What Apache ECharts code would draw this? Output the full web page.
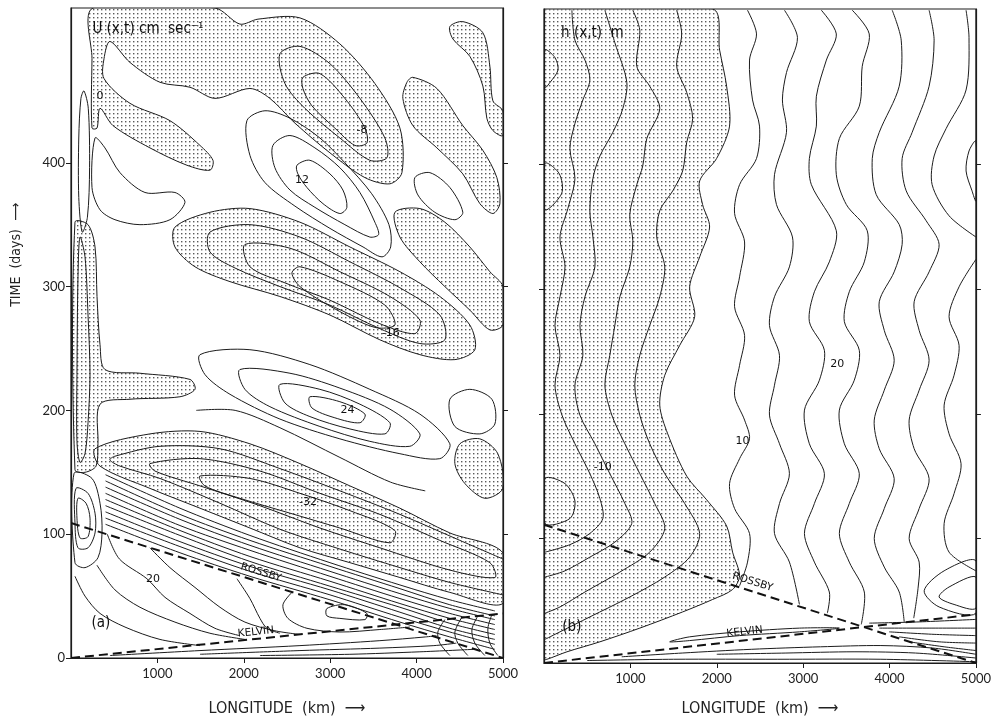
<!DOCTYPE html>
<html><head><meta charset="utf-8">
<script src="https://cdn.jsdelivr.net/npm/echarts@6/dist/echarts.min.js"></script>
<style>html,body{margin:0;padding:0;background:#fff}#c{width:994px;height:722px}</style>
</head><body><div id="c"></div>
<script>
// ---------- axes ----------
const xTicks = [1000, 2000, 3000, 4000, 5000];
const yTicksLabelled = [0, 100, 200, 300, 400];
const yTicksPlain = [100, 200, 300, 400];
const kmMax = 5000, dayMax = 525;

// ---------- panel (a): U(x,t) — dashed characteristics ----------
const uRossby = [[0,109],[5000,0]];
const uKelvin = [[0,0],[5000,36]];

// ---------- panel (a): stippled (negative) regions [km, days] ----------
const uNegTop = [[255,525],[1666,525],[1955,512],[2164,516],[2650,517],[3112,496],[3517,464],[3807,428],[3830,392],[3691,383],[3402,388],[2997,408],[2592,432],[2302,452],[2071,460],[1666,452],[1377,461],[1030,465],[683,481],[451,498],[382,484],[382,468],[683,448],[1145,434],[1493,414],[1643,402],[1608,394],[1342,398],[914,412],[486,430],[336,444],[301,428],[243,428],[243,484]];
const uNegRT1 = [[4385,510],[4535,514],[4767,505],[4848,478],[4883,450],[4998,442],[4998,422],[4883,426],[4813,436],[4767,462],[4616,486],[4420,500]];
const uNegRT2 = [[3957,469],[4235,460],[4535,430],[4767,410],[4929,388],[4964,367],[4883,359],[4732,367],[4535,391],[4235,412],[3957,430],[3841,452],[3888,465]];
const uNegRT3 = [[3749,360],[4038,363],[4327,352],[4616,332],[4848,312],[5000,300],[5000,269],[4848,265],[4616,281],[4327,300],[4038,320],[3807,340]];
const uNeg16 = [[1203,348],[1608,360],[2071,363],[2650,352],[3228,332],[3807,312],[4269,292],[4616,269],[4674,249],[4443,241],[4038,245],[3575,257],[2997,277],[2418,292],[1840,304],[1435,316],[1203,332]];
const uNegSB = [[4501,173],[4732,177],[4940,165],[4998,137],[4790,129],[4558,141],[4443,157]];
const uNeg32 = [[278,169],[914,181],[1493,183],[2071,173],[2650,157],[3228,139],[3807,121],[4385,101],[4998,85],[4998,44],[4385,53],[3807,65],[3228,77],[2650,89],[2071,105],[1493,121],[914,137],[336,155]];
const uNegLeft = [[46,352],[197,350],[278,332],[301,292],[336,253],[393,233],[798,230],[1377,225],[1435,217],[1261,211],[683,209],[336,205],[312,173],[290,155],[162,150],[46,152]];

// ---------- panel (a): closed contours ----------
const uLoopM8a = [[2418,488],[2650,494],[2997,480],[3344,452],[3633,420],[3656,404],[3459,402],[3112,420],[2707,444],[2476,464]];
const uLoopM8b = [[2684,469],[2881,472],[3170,452],[3402,428],[3425,416],[3286,414],[3054,428],[2788,446],[2684,460]];
const uLoop12a = [[2615,398],[2765,402],[2997,391],[3147,378],[3193,364],[3112,359],[2916,367],[2731,380],[2626,391]];
const uLoop12b = [[2337,414],[2534,422],[2823,412],[3112,396],[3344,376],[3517,352],[3560,342],[3459,340],[3170,350],[2823,364],[2534,378],[2360,396]];
const uLoop12c = [[2036,434],[2245,442],[2534,436],[2881,420],[3170,400],[3480,375],[3680,350],[3700,332],[3600,324],[3380,332],[2997,347],[2592,365],[2245,384],[2071,406]];
const uLoopWhite = [[3980,388],[4154,392],[4385,380],[4535,360],[4443,354],[4211,360],[4015,374]];
const uLoop16b = [[1608,344],[2071,350],[2650,340],[3228,320],[3807,299],[4269,277],[4327,257],[4038,254],[3575,266],[2997,285],[2418,300],[1898,315],[1608,328]];
const uLoop16c = [[2013,334],[2534,331],[3112,312],[3691,292],[4038,273],[3980,262],[3575,270],[2997,289],[2476,303],[2071,316]];
const uLoop16d = [[2650,316],[3112,304],[3633,285],[3749,269],[3517,267],[3054,282],[2650,300],[2557,311]];
const uLoop24a = [[1493,245],[2071,249],[2765,237],[3459,217],[4038,197],[4385,173],[4269,161],[3807,165],[3112,177],[2418,193],[1840,213],[1550,229]];
const uLoop24b = [[1955,233],[2534,230],[3112,218],[3691,201],[4038,181],[3922,171],[3459,175],[2881,187],[2302,203],[2013,217]];
const uLoop24c = [[2418,221],[2881,217],[3344,205],[3691,190],[3633,181],[3228,185],[2765,195],[2476,206]];
const uLoop24d = [[2765,211],[3112,207],[3402,197],[3344,190],[3054,194],[2788,202]];
const uLoopRM = [[4385,209],[4616,217],[4871,209],[4906,189],[4732,181],[4443,187]];
const uLoop32b = [[914,157],[1493,161],[2187,151],[2881,133],[3575,116],[4269,95],[4848,77],[4906,65],[4385,71],[3575,89],[2881,105],[2187,123],[1493,139],[972,151]];
const uLoop32c = [[1493,147],[2071,145],[2650,133],[3228,119],[3749,103],[3691,93],[3112,105],[2534,117],[1955,129],[1550,139]];
const uLoopTL1 = [[150,458],[200,444],[215,396],[190,356],[130,344],[90,372],[90,420],[115,452]];
const uLoopTL2 = [[278,420],[393,412],[567,392],[856,376],[1203,376],[1319,368],[1145,354],[798,350],[509,354],[336,362],[243,380]];
const uLoopStrip = [[104,340],[162,324],[197,277],[220,229],[197,190],[162,165],[104,158],[69,175],[69,229],[81,308]];
const uLoopEL1 = [[58,137],[197,133],[278,117],[278,101],[197,89],[81,89],[46,109]];
const uLoopEL2 = [[81,129],[174,125],[220,113],[197,98],[104,97],[69,113]];
const uLoopEL3 = [[35,149],[243,145],[336,125],[359,101],[312,81],[162,73],[46,77]];
const uLoopB7 = [[2962,40],[3170,43],[3425,36],[3402,31],[3112,32],[2962,34]];

// ---------- panel (a): open contours ----------
const uLine32a = [[4998,80],[4501,95],[3807,116],[3112,135],[2418,153],[1724,169],[1030,171],[509,163],[450,160],[567,155],[1030,145],[1724,125],[2418,104],[3112,88],[3807,73],[4385,61],[4998,51]];
const uPre24 = [[1450,200],[1900,200],[2418,186],[3112,162],[3700,142],[4100,135]];
const uBand1 = [[400,148],[1261,121],[2071,99],[2997,77],[3807,59],[4385,47],[4906,38]];
const uBand2 = [[400,143],[1261,116],[2071,95],[2997,74],[3807,56],[4385,43],[4906,34]];
const uBand3 = [[400,138],[1261,112],[2071,91],[2997,70],[3807,52],[4385,40],[4906,31]];
const uBand4 = [[400,133],[1261,107],[2071,87],[2997,66],[3807,48],[4385,36],[4906,27]];
const uBand5 = [[400,128],[1261,103],[2071,82],[2997,62],[3807,44],[4385,32],[4906,23]];
const uBand6 = [[400,123],[1261,99],[2071,78],[2997,58],[3807,41],[4385,28],[4906,19]];
const uBand7 = [[400,118],[1261,94],[2071,74],[2997,55],[3807,37],[4385,24],[4906,15]];
const uBand8 = [[400,113],[1261,90],[2071,70],[2997,51],[3807,33],[4385,21],[4906,11]];
const uBand9 = [[400,108],[1261,85],[2071,66],[2997,47],[3807,29],[4385,17],[4906,7]];
const uB1 = [[46,66],[162,50],[336,36],[625,25],[1030,15],[1493,10]];
const uB2 = [[300,75],[509,55],[798,41],[1203,29],[1608,20],[2013,15]];
const uB3 = [[420,100],[560,80],[879,64],[1088,49],[1377,36],[1666,24],[1955,18]];
const uB4 = [[914,89],[1145,73],[1435,57],[1724,41],[2013,29],[2360,22],[2650,19]];
const uB5 = [[1921,64],[2071,48],[2187,32],[2268,24],[2418,20]];
const uB6 = [[2557,53],[2453,43],[2511,32],[2731,24],[3112,21],[3575,23],[3922,25]];
const uH1 = [[451,2],[1493,6],[2650,10],[3575,14],[4100,17],[4230,18]];
const uH2 = [[1493,3],[2650,6],[3575,8],[4200,10],[4460,12]];
const uH3 = [[2187,2],[3228,3],[4038,5],[4660,7]];
const uA1 = [[4327,31],[4246,21],[4269,12],[4385,2]];
const uA2 = [[4524,33],[4443,21],[4477,12],[4593,2]];
const uA3 = [[4709,34],[4640,23],[4674,12],[4790,2]];
const uA4 = [[4871,35],[4825,24],[4848,12],[4940,2]];

// ---------- panel (a): contour labels ----------
const uLabelText = ['0', '-8', '12', '-16', '24', '-32', '20'];
const uLabelAt = [[336,454],[3367,426],[2673,386],[3700,262],[3200,200],[2742,126],[949,64]];

// ---------- panel (b): h(x,t) ----------
const hRossby = [[0,111],[5000,0]];
const hKelvin = [[0,0],[5000,39]];
const hNeg = [[0,525],[1952,525],[2033,492],[2114,463],[2148,431],[1998,405],[1802,387],[1836,368],[1917,350],[1802,326],[1686,302],[1744,278],[1571,255],[1398,231],[1340,207],[1432,184],[1652,150],[1883,131],[2114,110],[2183,89],[2264,70],[2183,59],[1952,51],[1605,41],[1109,28],[647,17],[266,9],[35,3],[0,3]];
const hS2 = [[323,524],[358,500],[474,484],[531,468],[450,452],[358,433],[300,413],[358,389],[277,365],[185,342],[243,318],[185,294],[127,271],[185,247],[127,223],[208,199],[358,176],[531,152],[647,132],[681,116],[531,104],[300,95],[12,89]];
const hS3 = [[705,524],[820,498],[959,466],[912,445],[797,426],[647,407],[566,389],[531,363],[566,342],[589,318],[474,294],[416,271],[450,247],[358,223],[416,199],[589,176],[762,152],[936,128],[1016,112],[820,97],[531,85],[243,74],[12,69]];
const hS4 = [[1028,524],[1109,508],[1074,479],[1224,463],[1340,445],[1190,421],[1143,399],[1074,384],[993,360],[1028,339],[993,318],[878,294],[820,271],[762,247],[705,223],[785,199],[936,176],[1109,152],[1282,128],[1398,108],[1224,89],[878,73],[474,57],[185,45],[12,40]];
const hS5 = [[1536,524],[1594,505],[1536,479],[1652,458],[1721,437],[1652,418],[1605,395],[1490,379],[1340,363],[1305,342],[1398,318],[1340,294],[1224,271],[1109,247],[1051,223],[1109,199],[1224,176],[1398,152],[1629,128],[1802,104],[1686,85],[1398,69],[993,53],[531,37],[185,25],[12,19]];
const hW1 = [[2356,524],[2460,505],[2379,484],[2414,452],[2495,431],[2460,405],[2264,384],[2206,361],[2322,338],[2264,310],[2206,286],[2322,263],[2264,239],[2206,215],[2322,195],[2379,180],[2264,164],[2148,144],[2206,124],[2379,104],[2356,81],[2264,62]];
const hW2 = [[2784,524],[2934,502],[2807,474],[2760,452],[2807,426],[2668,392],[2691,368],[2876,342],[2841,318],[2668,294],[2610,271],[2726,247],[2668,223],[2610,199],[2726,176],[2841,152],[2726,128],[2668,104],[2841,81],[2957,47]];
const hW3 = [[3211,524],[3384,505],[3269,484],[3153,455],[3153,431],[3072,405],[3095,384],[3384,347],[3303,322],[3130,298],[3072,274],[3246,251],[3188,227],[3015,203],[3072,176],[3246,152],[3130,128],[3015,104],[3130,81],[3303,57],[3280,40]];
const hW4 = [[3569,524],[3765,505],[3684,479],[3650,447],[3419,421],[3384,392],[3500,368],[3742,347],[3708,322],[3534,298],[3477,274],[3650,251],[3592,227],[3419,203],[3477,176],[3650,152],[3534,128],[3419,104],[3534,81],[3708,57],[3673,31]];
const hW5 = [[4031,524],[4135,500],[4112,463],[3881,426],[3800,405],[3846,376],[4112,352],[4146,336],[4054,314],[3881,290],[3939,267],[4054,243],[3939,219],[3823,195],[3881,172],[4054,148],[3939,124],[3823,100],[3939,77],[4112,57],[4170,33]];
const hW6 = [[4458,524],[4516,500],[4458,463],[4262,426],[4146,405],[4193,379],[4424,355],[4574,336],[4458,314],[4285,290],[4343,267],[4458,243],[4343,219],[4227,195],[4285,172],[4458,148],[4343,124],[4227,100],[4343,81],[4330,60],[4280,36]];
const hW7 = [[4886,524],[4920,502],[4886,460],[4655,429],[4516,407],[4493,384],[4689,359],[5000,342]];
const hW7b = [[5000,324],[4805,302],[4689,278],[4805,255],[4747,231],[4632,207],[4689,184],[4828,160],[4747,136],[4632,112],[4689,89],[5000,74]];
const hF1 = [[3765,32],[4343,33],[5000,35]];
const hF2 = [[3881,28],[4458,28],[5000,28]];
const hF3 = [[3996,25],[4516,23],[5000,22]];
const hF4 = [[4112,21],[4574,17],[5000,16]];
const hF5 = [[4227,17],[4632,13],[5000,10]];
const hHB0 = [[500,2],[1500,3],[2700,3],[3900,3],[5000,1]];
const hHB1 = [[900,5],[1600,8],[2400,11],[3200,13],[3900,14],[4500,12],[5000,7]];
const hHB2 = [[2000,7],[2800,8],[3600,9],[4300,8],[5000,4]];
const hBumpTop = [[12,492],[127,486],[162,476],[69,466],[12,462]];
const hBumpMid = [[12,401],[175,393],[205,377],[12,364]];
const hChIn = [[12,148],[243,144],[358,130],[300,116],[12,112]];
const hRB1 = [[5000,419],[4920,411],[4886,395],[4955,379],[5000,371]];
const hRB3 = [[5000,69],[4689,61],[4574,53],[4747,47],[5000,44]];
const hRB4 = [[5000,82],[4632,74],[4401,58],[4574,45],[5000,40]];
const hLoopHL = [[1455,17],[1686,21],[2264,25],[2957,28],[3419,28],[2957,25],[2264,22],[1686,18]];
const hLabelText = ['-10', '10', '20'];
const hLabelAt = [[681,157],[2298,178],[3396,240]];

// ---------- groupings ----------
const uAreas = [uNegTop, uNegRT1, uNegRT2, uNegRT3, uNeg16, uNegSB, uNeg32, uNegLeft];
const uLoops = [uLoopM8a, uLoopM8b, uLoop12a, uLoop12b, uLoop12c, uLoopWhite, uLoop16b, uLoop16c, uLoop16d, uLoop24a, uLoop24b, uLoop24c, uLoop24d, uLoopRM, uLoop32b, uLoop32c, uLoopTL1, uLoopTL2, uLoopStrip, uLoopEL1, uLoopEL2, uLoopEL3, uLoopB7];
const uLines = [uLine32a, uPre24, uBand1, uBand2, uBand3, uBand4, uBand5, uBand6, uBand7, uBand8, uBand9, uB1, uB2, uB3, uB4, uB5, uB6, uH1, uH2, uH3, uA1, uA2, uA3, uA4];
const hAreas = [hNeg];
const hLoops = [hBumpTop, hBumpMid, hChIn, hRB1, hRB3, hRB4, hLoopHL];
const hLines = [hS2, hS3, hS4, hS5, hW1, hW2, hW3, hW4, hW5, hW6, hW7, hW7b, hF1, hF2, hF3, hF4, hF5, hHB0, hHB1, hHB2];

// ---------- styling ----------
const INK = '#1c1c1c';
const pat = document.createElement('canvas');
pat.width = 4; pat.height = 4;
(function(){ const g = pat.getContext('2d'); g.fillStyle = '#5a5a5a'; g.fillRect(1, 1, 1.4, 1.4); })();
const narrow = "'Liberation Sans Narrow','DejaVu Sans Condensed','Roboto Condensed',Arial,sans-serif";

function shapeSeries(grid, list, kind) {
  return {
    type: 'custom', coordinateSystem: 'cartesian2d', xAxisIndex: grid, yAxisIndex: grid * 2,
    clip: true, silent: true, animation: false,
    z: kind === 'area' ? 1 : (kind === 'dash' ? 4 : 2),
    data: list.map((_, i) => [i, 0]),
    renderItem: function (params, api) {
      const pts = list[params.dataIndex].map(p => api.coord(p));
      if (kind === 'area') {
        return { type: 'polygon', shape: { points: pts, smooth: 0.3 },
          style: { fill: { image: pat, repeat: 'repeat' }, stroke: INK, lineWidth: 1 } };
      }
      if (kind === 'loop') {
        return { type: 'polygon', shape: { points: pts, smooth: 0.3 },
          style: { fill: null, stroke: INK, lineWidth: 1 } };
      }
      if (kind === 'dash') {
        return { type: 'polyline', shape: { points: pts },
          style: { fill: null, stroke: '#111', lineWidth: 2, lineDash: [9, 5] } };
      }
      return { type: 'polyline', shape: { points: pts, smooth: 0.3 },
        style: { fill: null, stroke: INK, lineWidth: 1 } };
    }
  };
}

function textSeries(grid, texts, at, font) {
  return {
    type: 'custom', coordinateSystem: 'cartesian2d', xAxisIndex: grid, yAxisIndex: grid * 2,
    silent: true, z: 6, data: texts.map((_, i) => [i, 0]),
    renderItem: function (params, api) {
      const c = api.coord(at[params.dataIndex]);
      return { type: 'text', x: c[0], y: c[1],
        style: { text: texts[params.dataIndex], font: font, fill: '#111', align: 'center', verticalAlign: 'middle' } };
    }
  };
}

function slopeLabel(grid, line, word, at) {
  return {
    type: 'custom', coordinateSystem: 'cartesian2d', xAxisIndex: grid, yAxisIndex: grid * 2,
    silent: true, z: 6, data: [[0, 0]],
    renderItem: function (params, api) {
      const a = api.coord(line[0]), b = api.coord(line[1]);
      const ang = -Math.atan2(b[1] - a[1], b[0] - a[0]);
      const c = api.coord(at);
      return { type: 'text', x: c[0], y: c[1], rotation: ang,
        style: { text: word, font: "10.5px 'DejaVu Sans',sans-serif", fill: '#111', align: 'center', verticalAlign: 'middle' } };
    }
  };
}

const plain = v => String(v);
function xAxisCfg(grid, nameGap) {
  return {
    gridIndex: grid, type: 'value', min: 0, max: kmMax,
    axisLine: { show: true, lineStyle: { color: INK, width: 1.2 } },
    axisTick: { show: true, customValues: xTicks, length: 5, lineStyle: { color: INK } },
    axisLabel: { customValues: xTicks, formatter: plain, color: '#222', fontFamily: 'Lato, sans-serif', fontSize: 13, margin: 9 },
    splitLine: { show: false },
    name: 'LONGITUDE  (km)  \u27F6', nameLocation: 'middle', nameGap: nameGap,
    nameTextStyle: { fontFamily: narrow, fontSize: 16, color: '#222' }
  };
}
function yAxisCfg(grid, pos, labels) {
  return {
    gridIndex: grid, type: 'value', min: 0, max: dayMax, position: pos,
    axisLine: { show: true, lineStyle: { color: INK, width: 1.2 } },
    axisTick: { show: true, customValues: labels ? yTicksLabelled : yTicksPlain, length: 5, lineStyle: { color: INK } },
    axisLabel: labels ? { customValues: yTicksLabelled, formatter: plain, color: '#222', fontFamily: 'Lato, sans-serif', fontSize: 13, margin: 6 } : { show: false },
    splitLine: { show: false }
  };
}

const chart = echarts.init(document.getElementById('c'), null, { renderer: 'canvas' });
chart.setOption({
  animation: false,
  backgroundColor: '#fff',
  grid: [
    { left: 71, top: 8, width: 432, height: 659, show: true, borderColor: INK, borderWidth: 1.2, backgroundColor: 'transparent' },
    { left: 544, top: 9, width: 433, height: 663, show: true, borderColor: INK, borderWidth: 1.2, backgroundColor: 'transparent' }
  ],
  xAxis: [xAxisCfg(0, 43), xAxisCfg(1, 38)],
  yAxis: [yAxisCfg(0, 'left', true), yAxisCfg(0, 'right', false), yAxisCfg(1, 'left', false), yAxisCfg(1, 'right', false)],
  graphic: [
    { type: 'text', left: 9, top: 203, rotation: Math.PI / 2,
      style: { text: 'TIME  (days)  \u27F6', font: "14px " + narrow, fill: '#222' } }
  ],
  series: [
    shapeSeries(0, uAreas, 'area'),
    shapeSeries(0, uLoops, 'loop'),
    shapeSeries(0, uLines, 'line'),
    shapeSeries(0, [uRossby, uKelvin], 'dash'),
    shapeSeries(1, hAreas, 'area'),
    shapeSeries(1, hLoops, 'loop'),
    shapeSeries(1, hLines, 'line'),
    shapeSeries(1, [hRossby, hKelvin], 'dash'),
    textSeries(0, uLabelText, uLabelAt, "11px 'DejaVu Sans',sans-serif"),
    textSeries(1, hLabelText, hLabelAt, "11px 'DejaVu Sans',sans-serif"),
    textSeries(0, ['U (x,t) cm  sec\u207B\u00B9', '(a)'], [[890,508],[347,28]], "15px " + narrow),
    textSeries(1, ['h (x,t)  m', '(b)'], [[560,506],[323,29]], "15px " + narrow),
    slopeLabel(0, uRossby, 'ROSSBY', [2198,69]),
    slopeLabel(0, uKelvin, 'KELVIN', [2140,21]),
    slopeLabel(1, hRossby, 'ROSSBY', [2414,65]),
    slopeLabel(1, hKelvin, 'KELVIN', [2322,25])
  ]
});
</script>
</body></html>
